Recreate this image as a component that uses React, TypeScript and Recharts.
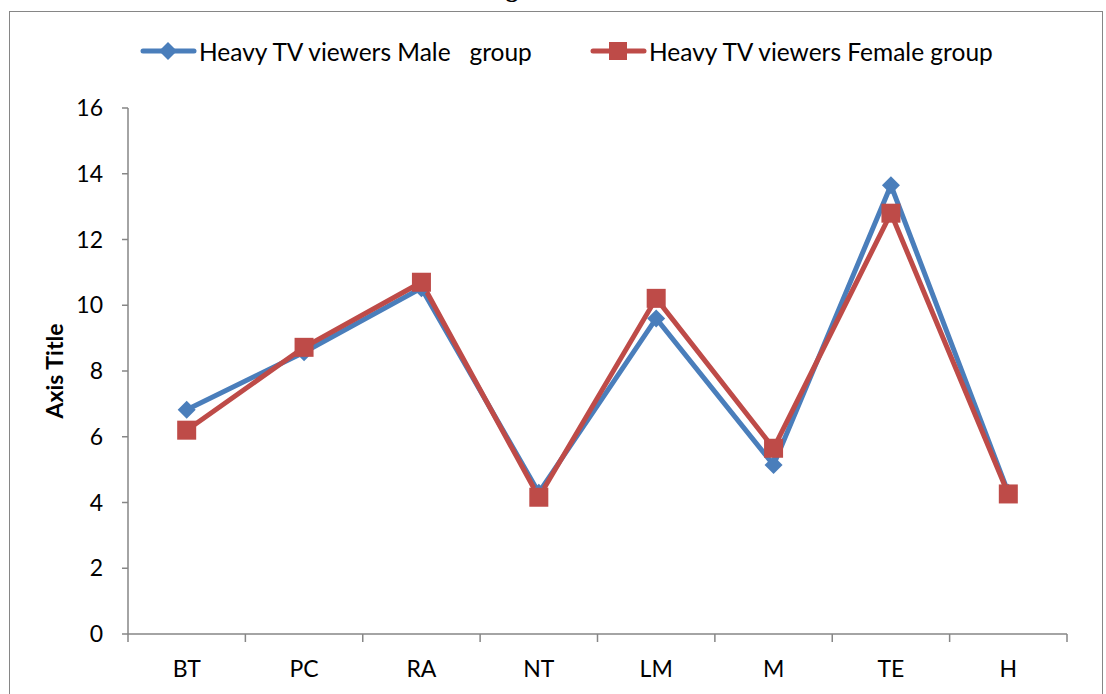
import React from 'react'
import { LineChart, Line, XAxis, YAxis, Legend } from 'recharts'

const categories = ['BT', 'PC', 'RA', 'NT', 'LM', 'M', 'TE', 'H']
const maleGroup = [6.82, 8.57, 10.52, 4.3, 9.6, 5.14, 13.65, 4.3]
const femaleGroup = [6.2, 8.72, 10.7, 4.16, 10.21, 5.65, 12.8, 4.26]
const yTicks = [0, 2, 4, 6, 8, 10, 12, 14, 16]
const xTicks = [0, 0.5, 1, 1.5, 2, 2.5, 3, 3.5, 4, 4.5, 5, 5.5, 6, 6.5, 7, 7.5, 8]

const data = categories.map((name, i) => ({
  name,
  pos: i + 0.5,
  male: maleGroup[i],
  female: femaleGroup[i],
}))

const BLUE = '#4A7EBB'
const RED = '#BE4B48'
const AXIS = '#868686'
const FONT = 'Lato, "Open Sans", sans-serif'

const Diamond = (props: any) => {
  const { cx, cy } = props
  if (cx == null || cy == null) return null
  const r = 9
  return <polygon points={`${cx},${cy - r} ${cx + r},${cy} ${cx},${cy + r} ${cx - r},${cy}`} fill={BLUE} />
}

const Square = (props: any) => {
  const { cx, cy } = props
  if (cx == null || cy == null) return null
  const s = 19
  return <rect x={cx - s / 2} y={cy - s / 2} width={s} height={s} fill={RED} />
}

// integer ticks = category boundaries (tick marks), half ticks = category labels
const XTick = (props: any) => {
  const { x, y, payload } = props
  const v = payload.value
  if (Number.isInteger(v)) {
    return <line x1={x} x2={x} y1={y - 43} y2={y - 35} stroke={AXIS} strokeWidth={1.5} />
  }
  return (
    <text x={x} y={y} textAnchor="middle" fill="#000" fontSize={23} fontFamily={FONT}>
      {categories[Math.round(v - 0.5)]}
    </text>
  )
}

const LegendContent = () => {
  const items = [
    { label: 'Heavy TV viewers Male   group', color: BLUE, marker: 'diamond', left: 140 },
    { label: 'Heavy TV viewers Female group', color: RED, marker: 'square', left: 590 },
  ]
  return (
    <div style={{ position: 'relative', height: 40 }}>
      {items.map((it) => (
        <div key={it.label} style={{ position: 'absolute', left: it.left, top: 0, display: 'flex', alignItems: 'center', height: 40 }}>
          <svg width={57} height={24}>
            <line x1={3} x2={54} y1={12} y2={12} stroke={it.color} strokeWidth={5} strokeLinecap="round" />
            {it.marker === 'diamond' ? (
              <polygon points="28,3 37,12 28,21 19,12" fill={it.color} />
            ) : (
              <rect x={19} y={3} width={18} height={18} fill={it.color} />
            )}
          </svg>
          <span style={{ whiteSpace: 'pre', fontFamily: FONT, fontSize: 24.5, color: '#000', marginLeft: 2 }}>{it.label}</span>
        </div>
      ))}
    </div>
  )
}

export default function App() {
  return (
    <div style={{ position: 'fixed', left: 0, top: 0, width: 1106, height: 694, overflow: 'hidden', background: '#fff' }}>
      <div style={{ position: 'absolute', left: 9, top: 11, width: 1092, height: 720, border: `1.5px solid ${AXIS}` }} />
      <div style={{ position: 'absolute', left: 0, width: 1106, top: -24, textAlign: 'center', fontFamily: '"Liberation Serif", serif', fontWeight: 'bold', fontSize: 25, lineHeight: '26px', paddingRight: 50, boxSizing: 'border-box' }}>
        Figure 3
      </div>
      <div style={{ position: 'absolute', left: 0, top: 0 }}>
        <LineChart width={1106} height={694} data={data} margin={{ top: 68, right: 39, bottom: 20, left: 0 }}>
          <Legend verticalAlign="top" height={40} content={<LegendContent />} wrapperStyle={{ top: 31, left: 0, width: 1106 }} />
          <XAxis
            dataKey="pos"
            type="number"
            domain={[0, 8]}
            ticks={xTicks}
            interval={0}
            height={40}
            tickLine={false}
            tickSize={8}
            tickMargin={35}
            axisLine={{ stroke: AXIS, strokeWidth: 1.5 }}
            tick={<XTick />}
          />
          <YAxis
            width={128}
            domain={[0, 16]}
            ticks={yTicks}
            interval={0}
            tickSize={6}
            tickMargin={19}
            tickLine={{ stroke: AXIS, strokeWidth: 1.5 }}
            axisLine={{ stroke: AXIS, strokeWidth: 1.5 }}
            tick={{ fill: '#000', fontSize: 23, fontFamily: FONT }}
            label={{ value: 'Axis Title', angle: -90, position: 'center', dx: -9, style: { fontFamily: FONT, fontWeight: 'bold', fontSize: 23, fill: '#000' } }}
          />
          <Line dataKey="male" stroke={BLUE} strokeWidth={5} dot={<Diamond />} activeDot={false} isAnimationActive={false} />
          <Line dataKey="female" stroke={RED} strokeWidth={5} dot={<Square />} activeDot={false} isAnimationActive={false} />
        </LineChart>
      </div>
    </div>
  )
}
